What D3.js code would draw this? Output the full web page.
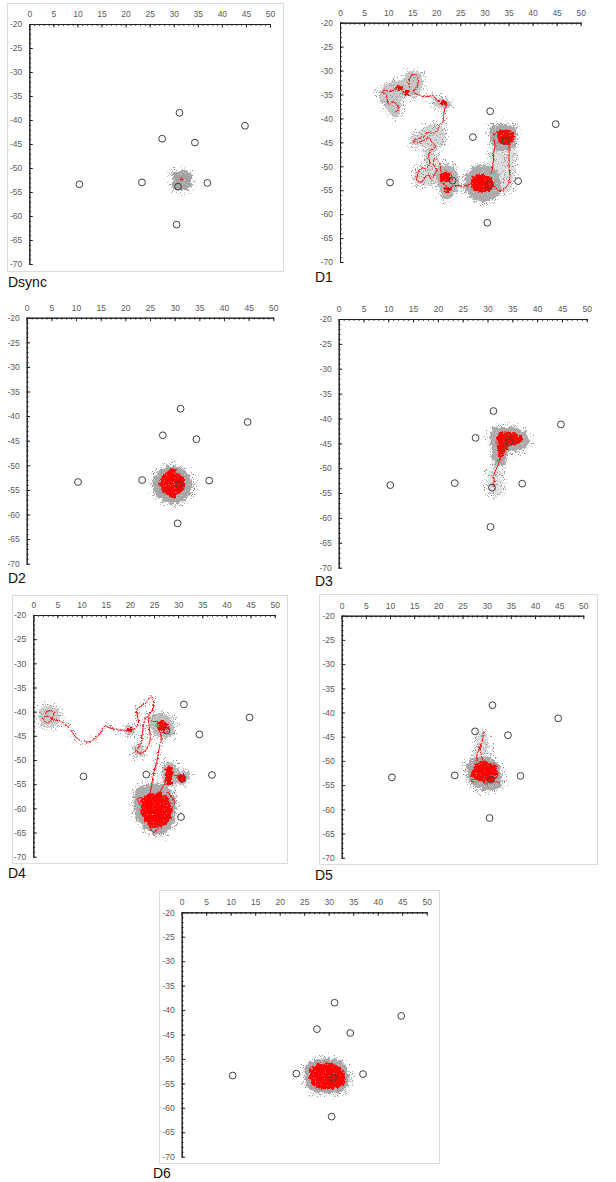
<!DOCTYPE html>
<html>
<head>
<meta charset="utf-8">
<script src="https://cdn.jsdelivr.net/npm/d3@7"></script>
<style>
  body { margin: 0; background: #fff; }
  svg { display: block; font-family: "Liberation Sans", Arial, sans-serif; }
</style>
</head>
<body>
<svg id="fig" width="616" height="1182"></svg>
<script>
// ---- data (data units: x 0..50, y -20..-70) ----

const panelNames = ["Dsync", "D1", "D2", "D3", "D4", "D5", "D6"];

const xTickValues = [0, 5, 10, 15, 20, 25, 30, 35, 40, 45, 50];
const yTickValues = [-20, -25, -30, -35, -40, -45, -50, -55, -60, -65, -70];

// open circles, same in every panel
const anchorX = [31.2, 44.8, 27.6, 34.4, 10.4, 23.4, 37.0, 30.9, 30.6];
const anchorY = [-38.5, -41.2, -43.9, -44.7, -53.4, -53.0, -53.1, -53.9, -61.8];

// gray point clouds: outline + how dense the points are
const cloudsDsync = [
  {dens: 1.0, pts: [[29.9,-50.9],[31.5,-50.6],[33.3,-51.0],[33.6,-52.8],[33.3,-54.4],[31.5,-54.6],[29.9,-54.3],[29.7,-52.5]]}
];
const cloudsD1 = [
  {dens: 0.6, pts: [[8.0,-34.8],[9.0,-33.4],[11.4,-32.2],[13.4,-31.6],[14.2,-30.2],[16.6,-30.6],[17.1,-33.4],[16.3,-35.1],[14.2,-35.5],[12.7,-35.7],[12.5,-37.9],[12.1,-39.6],[10.9,-39.6],[9.7,-38.0],[8.5,-36.4]]},
  {dens: 0.6, pts: [[19.4,-35.9],[21.1,-35.8],[22.9,-36.5],[22.6,-37.9],[21.0,-38.0],[19.6,-37.1]]},
  {dens: 0.45, pts: [[14.7,-44.5],[16.3,-42.9],[18.0,-41.7],[20.1,-41.2],[21.8,-42.6],[21.7,-44.9],[20.3,-46.4],[18.7,-46.8],[16.8,-45.7],[14.9,-45.4]]},
  {dens: 0.4, pts: [[18.0,-46.6],[19.7,-46.9],[19.9,-50.4],[18.7,-51.1],[17.8,-50.1]]},
  {dens: 0.4, pts: [[15.6,-51.1],[18.0,-50.4],[20.1,-51.1],[20.1,-53.6],[17.3,-53.8],[15.6,-53.4]]},
  {dens: 0.8, pts: [[20.3,-50.3],[22.4,-49.6],[24.2,-51.0],[24.8,-53.2],[24.0,-55.3],[22.6,-56.8],[21.1,-56.3],[20.6,-54.6],[20.0,-52.5]]},
  {dens: 0.9, pts: [[26.0,-52.2],[27.2,-50.6],[30.1,-49.7],[32.6,-51.0],[33.4,-53.9],[32.7,-56.3],[29.4,-57.3],[26.7,-56.0],[25.8,-53.9]]},
  {dens: 0.9, pts: [[31.2,-42.2],[32.9,-41.2],[35.7,-41.5],[36.5,-42.6],[36.4,-45.6],[34.3,-46.8],[32.6,-46.8],[31.4,-44.9]]},
  {dens: 0.35, pts: [[31.6,-46.6],[35.7,-46.2],[35.8,-53.9],[35.1,-55.3],[32.6,-55.3],[31.9,-51.1]]}
];
const cloudsD2 = [
  {dens: 0.95, pts: [[29.0,-50.2],[31.5,-50.7],[33.2,-52.3],[33.5,-54.5],[32.5,-56.6],[30.3,-57.7],[27.8,-57.2],[26.0,-55.6],[25.6,-53.6],[26.4,-51.6],[27.5,-50.6]]}
];
const cloudsD3 = [
  {dens: 0.9, pts: [[30.8,-42.3],[33.2,-41.7],[36.9,-42.3],[38.2,-43.3],[38.2,-45.4],[36.6,-46.4],[34.5,-46.7],[33.2,-49.4],[31.5,-49.4],[30.8,-45.7]]},
  {dens: 0.3, pts: [[30.5,-50.4],[32.2,-50.0],[32.9,-54.4],[31.9,-55.8],[30.2,-54.4]]}
];
const cloudsD4 = [
  {dens: 0.55, pts: [[1.4,-39.3],[4.8,-39.2],[5.5,-41.5],[4.5,-42.9],[1.6,-42.7],[1.2,-41.0]]},
  {dens: 0.6, pts: [[19.0,-43.1],[20.7,-43.1],[20.8,-44.5],[19.0,-44.6]]},
  {dens: 0.7, pts: [[24.5,-41.0],[27.5,-40.6],[29.0,-42.0],[28.8,-45.0],[26.5,-45.4],[24.6,-44.0]]},
  {dens: 0.55, pts: [[21.0,-47.0],[22.6,-47.0],[22.6,-49.0],[21.0,-49.2]]},
  {dens: 0.75, pts: [[26.9,-50.8],[28.8,-50.6],[30.5,-52.2],[32.3,-52.5],[32.0,-54.4],[29.5,-55.2],[27.2,-55.3],[26.6,-53.0]]},
  {dens: 0.9, pts: [[21.5,-56.0],[24.0,-55.0],[27.5,-55.3],[29.2,-57.5],[29.5,-61.0],[28.6,-64.0],[26.0,-65.5],[23.5,-64.5],[21.5,-62.0],[20.8,-58.5]]}
];
const cloudsD5 = [
  {dens: 0.95, pts: [[26.2,-50.2],[28.3,-49.4],[30.5,-49.2],[32.4,-50.5],[33.1,-52.9],[33.1,-55.0],[31.4,-56.0],[29.0,-56.0],[26.5,-54.3],[25.9,-52.6]]},
  {dens: 0.35, pts: [[27.9,-49.5],[27.9,-46.0],[29.0,-44.0],[30.0,-44.6],[30.3,-48.8],[29.5,-49.8]]}
];
const cloudsD6 = [
  {dens: 0.95, pts: [[26.5,-50.4],[29.5,-49.9],[32.5,-50.5],[34.0,-52.3],[34.0,-55.5],[32.5,-56.8],[29.5,-57.0],[26.5,-56.5],[25.2,-54.5],[25.3,-51.8]]}
];

// dense red patches of the trajectory
const blobsDsync = [
  [[31.6,-52.1],[32.0,-52.1],[32.0,-52.5],[31.6,-52.5]]
];
const blobsD1 = [
  [[27.4,-52.5],[28.7,-51.7],[30.6,-51.9],[31.7,-52.9],[31.9,-54.4],[30.5,-55.4],[28.4,-55.2],[27.4,-54.3]],
  [[32.8,-42.8],[35.0,-42.4],[36.0,-42.9],[36.0,-44.5],[34.6,-45.4],[33.1,-45.0]],
  [[21.7,-54.5],[22.6,-54.3],[22.9,-55.2],[22.1,-55.6]],
  [[11.8,-33.2],[12.9,-33.4],[12.8,-34.1],[11.8,-34.1]],
  [[13.2,-34.3],[14.5,-34.4],[14.2,-35.1],[13.4,-35.1]],
  [[21.0,-36.4],[22.1,-36.5],[22.0,-37.3],[21.0,-37.2]],
  [[20.8,-51.8],[22.2,-51.1],[23.1,-52.2],[22.2,-53.2],[21.0,-53.1]]
];
const blobsD2 = [
  [[29.4,-50.6],[30.8,-51.6],[31.9,-52.5],[32.1,-53.8],[31.5,-55.5],[30.3,-56.2],[29.7,-56.7],[28.4,-56.0],[27.3,-55.0],[26.9,-53.7],[27.5,-52.2],[28.5,-51.3]]
];
const blobsD3 = [
  [[32.2,-42.9],[35.9,-43.1],[37.2,-44.2],[36.6,-45.0],[34.5,-45.6],[33.2,-47.4],[32.4,-48.4],[32.0,-46.4]]
];
const blobsD4 = [
  [[22.7,-57.7],[24.8,-56.8],[27.3,-57.2],[28.4,-59.0],[28.5,-62.0],[27.0,-63.6],[24.5,-64.0],[23.0,-62.5],[22.2,-60.0]],
  [[27.6,-51.3],[28.6,-51.2],[28.7,-54.8],[27.6,-54.9]],
  [[30.0,-53.0],[31.4,-53.2],[31.2,-54.5],[30.0,-54.3]],
  [[25.8,-42.0],[27.6,-42.2],[27.8,-43.6],[26.2,-43.8]],
  [[19.5,-43.4],[20.4,-43.4],[20.4,-44.2],[19.5,-44.2]]
];
const blobsD5 = [
  [[27.6,-50.8],[29.0,-50.2],[31.0,-50.5],[32.1,-51.5],[32.1,-53.3],[31.0,-54.3],[29.3,-54.3],[27.6,-53.9],[26.8,-53.3],[27.0,-52.0]]
];
const blobsD6 = [
  [[27.0,-51.3],[29.5,-50.8],[32.0,-51.5],[33.3,-53.0],[33.2,-55.2],[31.5,-56.0],[29.0,-56.2],[26.8,-55.5],[26.0,-53.8],[26.2,-52.3]]
];

// red trajectory lines
const pathsD1 = [
  [[11.4,-38.7],[12.1,-38.2],[11.8,-37.1],[10.9,-36.5],[10.0,-37.1],[9.8,-35.9],[9.4,-34.8],[8.5,-34.4],[9.2,-34.1],[10.4,-34.4],
   [11.8,-33.6],[12.5,-33.7],[13.5,-34.4],[14.5,-34.2],[14.3,-32.7],[14.8,-31.1],[15.7,-30.8],[16.3,-32.0],[15.9,-33.4],[15.2,-34.3],
   [16.3,-35.1],[17.7,-35.5],[19.4,-35.3],[20.1,-36.2],[21.3,-36.6],[22.2,-37.1],[21.8,-37.9],[21.5,-39.6],[21.3,-41.0],[20.6,-41.7],
   [20.1,-42.8],[19.0,-43.1],[18.0,-42.9],[17.5,-43.8],[16.3,-44.2],[15.2,-44.7],[16.3,-45.0],[17.5,-44.5],[18.5,-44.0],[19.0,-44.9],
   [19.9,-45.9],[19.4,-46.4],[18.7,-46.9],[18.4,-48.0],[18.6,-49.2],[18.0,-50.3],[16.6,-50.6],[16.1,-51.8],[16.0,-53.1],[17.1,-53.2],
   [17.7,-52.2],[18.5,-51.8],[18.9,-52.9],[19.7,-51.5],[20.1,-50.6],[19.4,-49.7],[19.7,-48.3],[20.8,-49.7],[21.0,-51.1],[21.8,-51.8],
   [22.9,-51.5],[23.3,-52.9],[22.5,-53.2],[21.7,-52.7],[21.1,-53.2],[22.2,-54.3],[21.8,-55.2],[22.6,-55.0],[23.5,-54.1],[25.3,-54.1],
   [26.7,-53.9],[27.7,-53.2],[28.7,-52.5],[29.8,-53.2],[30.8,-53.9],[30.1,-55.0],[29.1,-55.3],[28.0,-54.6],[27.4,-52.9],[29.1,-52.2],
   [31.0,-52.0],[31.5,-51.1],[31.9,-49.0],[31.9,-47.3],[32.2,-45.6],[31.9,-43.8],[32.6,-42.8],[34.3,-43.1],[36.0,-43.5],[35.7,-44.9],
   [34.3,-45.4],[33.2,-45.0],[33.6,-44.2],[35.0,-44.2],[35.1,-46.3],[35.1,-49.7],[35.2,-53.2],[34.3,-54.6],[33.2,-55.3],[32.6,-54.7],[31.5,-53.9]]
];
const pathsD3 = [
  [[32.4,-48.4],[32.0,-49.7],[31.5,-50.7],[31.2,-51.7],[31.4,-52.7],[31.0,-53.4],[31.5,-53.7]]
];
const pathsD4 = [
  [[2.4,-40.5],[3.3,-39.8],[4.2,-40.1],[3.8,-41.6],[2.8,-42.3],[2.1,-41.4],[2.8,-40.9],[4.2,-41.7],[5.5,-41.9],[6.9,-42.8],
   [8.1,-44.3],[9.3,-45.7],[11.1,-46.3],[12.6,-45.7],[13.8,-44.5],[14.7,-43.1],[15.9,-43.4],[17.3,-43.7],[18.7,-43.9],[19.9,-43.9],
   [21.1,-43.4],[21.8,-42.1],[21.4,-39.7],[23.1,-38.3],[24.5,-36.9],[24.9,-39.0],[24.2,-40.3],[23.1,-41.7],[22.6,-44.5],[22.1,-46.9],
   [21.4,-48.3],[22.5,-48.6],[23.5,-47.6],[24.2,-45.9],[24.0,-43.1],[23.8,-41.0],[24.5,-41.9],[25.9,-42.1],[26.9,-42.4],[28.0,-43.1],
   [27.6,-44.3],[26.3,-44.1],[25.6,-42.8],[26.5,-45.2],[26.0,-47.9],[25.6,-50.3],[24.9,-52.8],[24.5,-55.5],[24.2,-57.6],[25.2,-59.0]],
  [[25.9,-57.0],[27.2,-55.0],[27.8,-53.5],[28.5,-53.0],[30.6,-53.6]],
  [[22.0,-58.5],[23.5,-59.5],[22.2,-61.0],[24.0,-62.0]],
  [[27.5,-56.5],[29.2,-58.5],[28.5,-60.5]],
  [[24.0,-63.5],[25.0,-65.0],[26.5,-63.0]],
  [[22.5,-57.8],[21.5,-58.0],[22.3,-59.5]]
];
const pathsD5 = [
  [[29.3,-50.2],[28.8,-48.4],[28.6,-47.4],[29.0,-46.0],[29.3,-44.8],[29.5,-44.0]],
  [[28.1,-50.2],[27.9,-49.1],[28.4,-47.7],[28.9,-46.5]],
  [[31.4,-54.0],[32.1,-54.3],[32.8,-54.8]],
  [[27.6,-53.8],[26.9,-53.9],[27.4,-54.6]],
  [[29.3,-53.9],[29.8,-54.6],[30.3,-55.1]]
];

// ---- layout: where each panel sits on the page (pixels) ----
const layout = [
  {x0: 29.3,  x50: 270,   yTop: 24,    yBot: 264,    frame: [7.5, 3.5, 276, 268],     label: [8, 287]},
  {x0: 340,   x50: 580.7, yTop: 22.7,  yBot: 262,    frame: null,                      label: [315, 282]},
  {x0: 26.7,  x50: 273.3, yTop: 317.7, yBot: 563.7,  frame: null,                      label: [8, 583]},
  {x0: 338.7, x50: 586.7, yTop: 319,   yBot: 567.7,  frame: null,                      label: [315, 586]},
  {x0: 33.3,  x50: 274.7, yTop: 615,   yBot: 856.7,  frame: [12.5, 595.5, 275, 268],  label: [8, 878]},
  {x0: 341.7, x50: 583.3, yTop: 615.7, yBot: 857.7,  frame: [319.5, 594.5, 278, 270], label: [315, 880]},
  {x0: 181.7, x50: 426.7, yTop: 912.3, yBot: 1156.7, frame: [159.5, 890.5, 280, 273], label: [153, 1178]}
];

const panelClouds = [cloudsDsync, cloudsD1, cloudsD2, cloudsD3, cloudsD4, cloudsD5, cloudsD6];
const panelBlobs  = [blobsDsync, blobsD1, blobsD2, blobsD3, blobsD4, blobsD5, blobsD6];
const panelPaths  = [[], pathsD1, [], pathsD3, pathsD4, pathsD5, []];

const anchors = anchorX.map((v, i) => [v, anchorY[i]]);

const svg = d3.select("#fig");

// texture filters: ragged edges and grainy fill for the scattered points
const defs = svg.append("defs");

function addFilter(id, roughFreq, roughScale, grainA, grainB) {
  const f = defs.append("filter").attr("id", id)
    .attr("filterUnits", "userSpaceOnUse")
    .attr("x", 0).attr("y", 0).attr("width", 616).attr("height", 1182);
  f.append("feTurbulence").attr("type", "fractalNoise")
    .attr("baseFrequency", roughFreq).attr("numOctaves", 2).attr("seed", 4).attr("result", "n1");
  f.append("feDisplacementMap").attr("in", "SourceGraphic").attr("in2", "n1")
    .attr("scale", roughScale).attr("xChannelSelector", "R").attr("yChannelSelector", "G").attr("result", "rough");
  if (grainA != null) {
    f.append("feTurbulence").attr("type", "fractalNoise")
      .attr("baseFrequency", 1.1).attr("numOctaves", 1).attr("seed", 9).attr("result", "n2");
    f.append("feColorMatrix").attr("in", "n2").attr("type", "matrix")
      .attr("values", `0 0 0 0 0  0 0 0 0 0  0 0 0 0 0  ${grainA} 0 0 0 ${grainB}`).attr("result", "mask");
    f.append("feComposite").attr("in", "rough").attr("in2", "mask").attr("operator", "in");
  }
}
addFilter("cloud", 0.3, 7, 4, -0.5);
addFilter("fringe", 0.3, 9, 9, -5.2);
addFilter("redmass", 0.35, 6, 5, -0.9);
addFilter("jitter", 0.6, 3, null, null);

function drawPanel(i) {
  const box = layout[i];
  const x = d3.scaleLinear().domain([0, 50]).range([box.x0, box.x50]);
  const y = d3.scaleLinear().domain([-20, -70]).range([box.yTop, box.yBot]);
  const g = svg.append("g");

  if (box.frame) {
    g.append("rect")
      .attr("x", box.frame[0]).attr("y", box.frame[1])
      .attr("width", box.frame[2]).attr("height", box.frame[3])
      .attr("fill", "none").attr("stroke", "#dcdcdc");
  }

  const shape = d3.line().x(d => x(d[0])).y(d => y(d[1])).curve(d3.curveCatmullRomClosed);
  const track = d3.line().x(d => x(d[0])).y(d => y(d[1])).curve(d3.curveCatmullRom);

  // sparse points around clouds and tracks
  g.append("g").attr("filter", "url(#fringe)")
    .call(s => s.selectAll("path.c").data(panelClouds[i]).join("path")
      .attr("d", d => shape(d.pts))
      .attr("fill", "#8c8c8c")
      .attr("stroke", "#8c8c8c")
      .attr("stroke-width", 9))
    .call(s => s.selectAll("path.t").data(panelPaths[i]).join("path")
      .attr("d", track)
      .attr("fill", "none")
      .attr("stroke", "#8c8c8c")
      .attr("stroke-width", 7));

  // gray point clouds
  g.append("g").attr("filter", "url(#cloud)").selectAll("path")
    .data(panelClouds[i])
    .join("path")
      .attr("d", d => shape(d.pts))
      .attr("fill", "#a2a2a2")
      .attr("fill-opacity", d => d.dens);

  // dense red patches
  g.append("g").attr("filter", "url(#redmass)").selectAll("path")
    .data(panelBlobs[i])
    .join("path")
      .attr("d", shape)
      .attr("fill", "#ff0000");

  // red tracks
  g.append("g").attr("filter", "url(#jitter)").selectAll("path")
    .data(panelPaths[i])
    .join("path")
      .attr("d", track)
      .attr("fill", "none")
      .attr("stroke", "#ff0000")
      .attr("stroke-width", 1);

  // open circles
  g.append("g").selectAll("circle")
    .data(anchors)
    .join("circle")
      .attr("cx", d => x(d[0]))
      .attr("cy", d => y(d[1]))
      .attr("r", 3.4)
      .attr("fill", "none")
      .attr("stroke", "#404040")
      .attr("stroke-width", 1);

  // axes: minor ticks, then major ticks with labels, all pointing inward
  g.append("g")
    .attr("transform", `translate(0,${box.yTop})`)
    .call(d3.axisTop(x).tickValues(d3.range(0, 51)).tickFormat("").tickSize(-1.8).tickSizeOuter(0));
  g.append("g")
    .attr("transform", `translate(${box.x0},0)`)
    .call(d3.axisLeft(y).tickValues(d3.range(-20, -71, -1)).tickFormat("").tickSize(-1.8).tickSizeOuter(0));

  const xAxis = g.append("g")
    .attr("transform", `translate(0,${box.yTop})`)
    .call(d3.axisTop(x).tickValues(xTickValues).tickFormat(d => String(d)).tickSize(-3.5).tickSizeOuter(0).tickPadding(7));
  const yAxis = g.append("g")
    .attr("transform", `translate(${box.x0},0)`)
    .call(d3.axisLeft(y).tickValues(yTickValues).tickFormat(d => String(d)).tickSize(-3.5).tickSizeOuter(0).tickPadding(7));

  g.selectAll(".domain").attr("stroke", "#222");
  g.selectAll(".tick line").attr("stroke", "#222");
  [xAxis, yAxis].forEach(a => a.selectAll("text")
    .attr("fill", "#5a5a5a")
    .attr("font-size", 8.5)
    .attr("font-family", "'Liberation Sans', Arial, sans-serif"));

  g.append("text")
    .attr("x", box.label[0])
    .attr("y", box.label[1])
    .attr("font-size", 14)
    .attr("fill", "#111")
    .text(panelNames[i]);
}

layout.forEach((b, i) => drawPanel(i));
</script>
</body>
</html>
